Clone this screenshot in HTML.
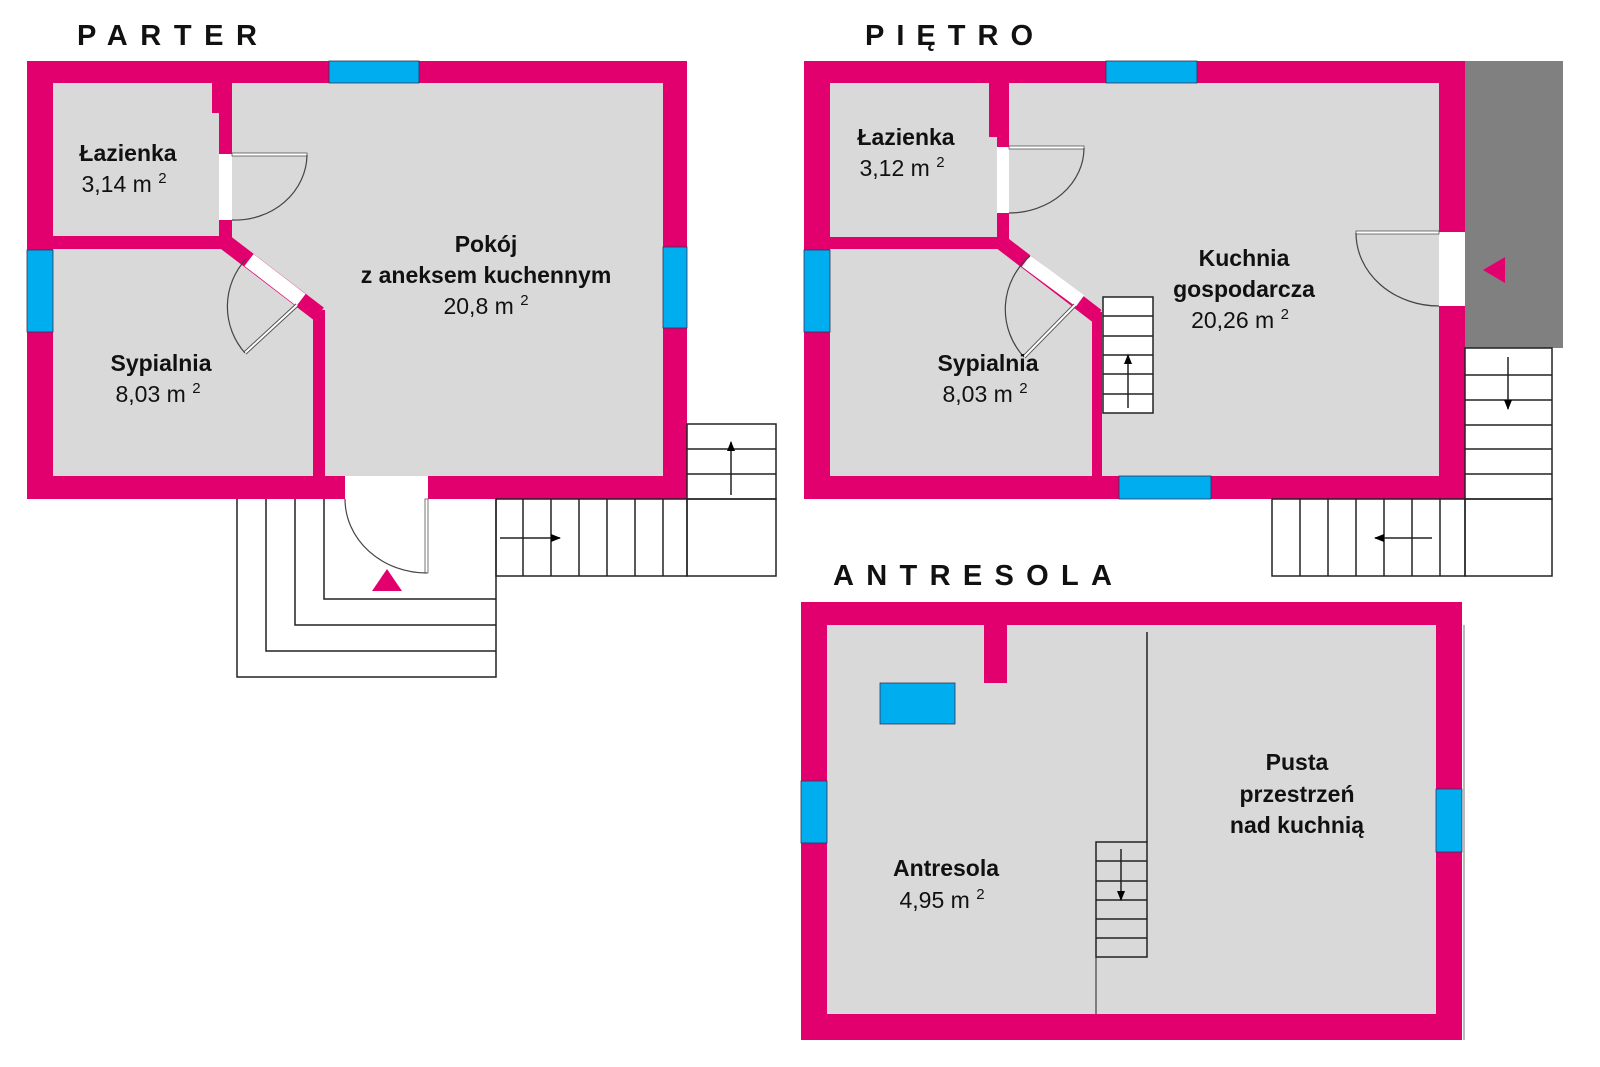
<!DOCTYPE html>
<html><head><meta charset="utf-8"><style>
html,body{margin:0;padding:0;background:#fff;}
svg{display:block;}
text{font-family:"Liberation Sans","DejaVu Sans",sans-serif;}
.t{font-weight:bold;font-size:29px;fill:#111;}
.rb{font-weight:bold;font-size:23px;fill:#111;text-anchor:middle;}
.rn{font-size:23px;fill:#111;text-anchor:middle;}
.sup{font-size:15px;}
</style></head><body>
<svg width="1600" height="1067" viewBox="0 0 1600 1067" xmlns="http://www.w3.org/2000/svg">
<defs>
<marker id="ah" markerWidth="10" markerHeight="10" refX="9" refY="4" orient="auto" markerUnits="userSpaceOnUse"><path d="M0,0 L10,4 L0,8 Z" fill="#000"/></marker>
</defs>
<text class="t" x="77" y="45" textLength="180" lengthAdjust="spacing">PARTER</text>
<text class="t" x="865" y="45" textLength="168" lengthAdjust="spacing">PIĘTRO</text>
<text class="t" x="833" y="585" textLength="279" lengthAdjust="spacing">ANTRESOLA</text>

<!-- ================= PARTER ================= -->
<g>
<rect x="27" y="61" width="660" height="438" fill="#e2006f"/>
<rect x="53" y="83" width="610" height="393" fill="#d9d9d9"/>
<rect x="212" y="83" width="20" height="30" fill="#e2006f"/>
<rect x="219" y="83" width="13" height="166" fill="#e2006f"/>
<rect x="53" y="236" width="179" height="13" fill="#e2006f"/>
<rect x="219" y="154" width="13" height="66" fill="#fff"/>
<line x1="225" y1="242" x2="319" y2="314" stroke="#e2006f" stroke-width="16"/>
<rect x="313" y="310" width="12" height="189" fill="#e2006f"/>
<line x1="249" y1="260" x2="301" y2="300" stroke="#fff" stroke-width="15"/>
<line x1="297" y1="305" x2="245" y2="353" stroke="#555" stroke-width="4"/>
<line x1="297" y1="305" x2="245" y2="353" stroke="#fff" stroke-width="2"/>
<path d="M245,353 A70,70 0 0 1 246,259" fill="none" stroke="#444" stroke-width="1.2"/>
<rect x="232" y="153" width="75" height="3" fill="#fff" stroke="#555" stroke-width="0.8"/>
<path d="M307,155 A72,66 0 0 1 232,220" fill="none" stroke="#444" stroke-width="1.2"/>
<rect x="345" y="476" width="83" height="23" fill="#fff"/>
<rect x="329" y="61" width="90" height="22" fill="#00aeef" stroke="#335" stroke-width="0.8"/>
<rect x="27" y="250" width="26" height="82" fill="#00aeef" stroke="#335" stroke-width="0.8"/>
<rect x="663" y="247" width="24" height="81" fill="#00aeef" stroke="#335" stroke-width="0.8"/>
<g fill="none" stroke="#222" stroke-width="1.5">
<polyline points="237,499 237,677 496,677 496,499"/>
<polyline points="266,499 266,651 496,651"/>
<polyline points="295,499 295,625 496,625"/>
<polyline points="324,499 324,599 496,599"/>
<rect x="425" y="499" width="3" height="74" fill="#fff" stroke="#555" stroke-width="0.8"/>
<path d="M345,499 A82,74 0 0 0 427,573" stroke="#444" stroke-width="1.2"/>
<rect x="496" y="499" width="191" height="77"/>
<line x1="523" y1="499" x2="523" y2="576"/><line x1="551" y1="499" x2="551" y2="576"/>
<line x1="579" y1="499" x2="579" y2="576"/><line x1="607" y1="499" x2="607" y2="576"/>
<line x1="635" y1="499" x2="635" y2="576"/><line x1="663" y1="499" x2="663" y2="576"/>
<rect x="687" y="499" width="89" height="77"/>
<rect x="687" y="424" width="89" height="75"/>
<line x1="687" y1="449" x2="776" y2="449"/><line x1="687" y1="474" x2="776" y2="474"/>
<line x1="500" y1="538" x2="560" y2="538" marker-end="url(#ah)"/>
<line x1="731" y1="495" x2="731" y2="442" marker-end="url(#ah)"/>
</g>
<polygon points="387,569 372,591 402,591" fill="#e2006f"/>
<text class="rb" x="128" y="161">Łazienka</text>
<text class="rn" x="124" y="192">3,14 m <tspan class="sup" dy="-9">2</tspan></text>
<text class="rb" x="161" y="371">Sypialnia</text>
<text class="rn" x="158" y="402">8,03 m <tspan class="sup" dy="-9">2</tspan></text>
<text class="rb" x="486" y="252">Pokój</text>
<text class="rb" x="486" y="283">z aneksem kuchennym</text>
<text class="rn" x="486" y="314">20,8 m <tspan class="sup" dy="-9">2</tspan></text>
</g>

<!-- ================= PIETRO ================= -->
<g>
<rect x="1465" y="61" width="98" height="287" fill="#808080"/>
<rect x="804" y="61" width="661" height="438" fill="#e2006f"/>
<rect x="830" y="83" width="609" height="393" fill="#d9d9d9"/>
<rect x="989" y="83" width="20" height="54" fill="#e2006f"/>
<rect x="997" y="83" width="12" height="166" fill="#e2006f"/>
<rect x="830" y="237" width="179" height="12" fill="#e2006f"/>
<rect x="997" y="147" width="12" height="66" fill="#fff"/>
<line x1="1002" y1="243" x2="1097" y2="316" stroke="#e2006f" stroke-width="15"/>
<rect x="1092" y="312" width="10" height="187" fill="#e2006f"/>
<line x1="1026" y1="261" x2="1080" y2="301" stroke="#fff" stroke-width="14"/>
<line x1="1075" y1="305" x2="1024" y2="357" stroke="#555" stroke-width="4"/>
<line x1="1075" y1="305" x2="1024" y2="357" stroke="#fff" stroke-width="2"/>
<path d="M1024,357 A70,70 0 0 1 1030,256" fill="none" stroke="#444" stroke-width="1.2"/>
<rect x="1009" y="146" width="75" height="3" fill="#fff" stroke="#555" stroke-width="0.8"/>
<path d="M1084,148 A75,65 0 0 1 1009,213" fill="none" stroke="#444" stroke-width="1.2"/>
<rect x="1439" y="232" width="26" height="74" fill="#fff"/>
<rect x="1356" y="231" width="83" height="3" fill="#fff" stroke="#555" stroke-width="0.8"/>
<path d="M1356,233 A83,73 0 0 0 1439,306" fill="none" stroke="#444" stroke-width="1.2"/>
<polygon points="1483,270 1505,257 1505,283" fill="#e2006f"/>
<rect x="1106" y="61" width="91" height="22" fill="#00aeef" stroke="#335" stroke-width="0.8"/>
<rect x="804" y="250" width="26" height="82" fill="#00aeef" stroke="#335" stroke-width="0.8"/>
<rect x="1119" y="476" width="92" height="23" fill="#00aeef" stroke="#335" stroke-width="0.8"/>
<g fill="none" stroke="#222" stroke-width="1.5">
<rect x="1103" y="297" width="50" height="116" fill="#fff"/>
<line x1="1103" y1="316" x2="1153" y2="316"/><line x1="1103" y1="336" x2="1153" y2="336"/>
<line x1="1103" y1="355" x2="1153" y2="355"/><line x1="1103" y1="374" x2="1153" y2="374"/>
<line x1="1103" y1="394" x2="1153" y2="394"/>
<line x1="1128" y1="408" x2="1128" y2="355" marker-end="url(#ah)"/>
<rect x="1465" y="348" width="87" height="151" fill="#fff"/>
<line x1="1465" y1="375" x2="1552" y2="375"/><line x1="1465" y1="400" x2="1552" y2="400"/>
<line x1="1465" y1="425" x2="1552" y2="425"/><line x1="1465" y1="449" x2="1552" y2="449"/>
<line x1="1465" y1="474" x2="1552" y2="474"/>
<line x1="1508" y1="357" x2="1508" y2="409" marker-end="url(#ah)"/>
<rect x="1465" y="499" width="87" height="77"/>
<rect x="1272" y="499" width="193" height="77"/>
<line x1="1300" y1="499" x2="1300" y2="576"/><line x1="1328" y1="499" x2="1328" y2="576"/>
<line x1="1356" y1="499" x2="1356" y2="576"/><line x1="1384" y1="499" x2="1384" y2="576"/>
<line x1="1412" y1="499" x2="1412" y2="576"/><line x1="1440" y1="499" x2="1440" y2="576"/>
<line x1="1432" y1="538" x2="1375" y2="538" marker-end="url(#ah)"/>
</g>
<text class="rb" x="906" y="145">Łazienka</text>
<text class="rn" x="902" y="176">3,12 m <tspan class="sup" dy="-9">2</tspan></text>
<text class="rb" x="1244" y="266">Kuchnia</text>
<text class="rb" x="1244" y="297">gospodarcza</text>
<text class="rn" x="1240" y="328">20,26 m <tspan class="sup" dy="-9">2</tspan></text>
<text class="rb" x="988" y="371">Sypialnia</text>
<text class="rn" x="985" y="402">8,03 m <tspan class="sup" dy="-9">2</tspan></text>
</g>

<!-- ================= ANTRESOLA ================= -->
<g>
<line x1="1464" y1="625" x2="1464" y2="1040" stroke="#777" stroke-width="1"/>
<rect x="801" y="602" width="661" height="438" fill="#e2006f"/>
<rect x="827" y="625" width="609" height="389" fill="#d9d9d9"/>
<rect x="984" y="625" width="23" height="58" fill="#e2006f"/>
<rect x="880" y="683" width="75" height="41" fill="#00aeef" stroke="#335" stroke-width="0.8"/>
<rect x="801" y="781" width="26" height="62" fill="#00aeef" stroke="#335" stroke-width="0.8"/>
<rect x="1436" y="789" width="26" height="63" fill="#00aeef" stroke="#335" stroke-width="0.8"/>
<g fill="none" stroke="#222" stroke-width="1.5">
<line x1="1147" y1="632" x2="1147" y2="842"/>
<rect x="1096" y="842" width="51" height="115"/>
<line x1="1096" y1="861" x2="1147" y2="861"/><line x1="1096" y1="881" x2="1147" y2="881"/>
<line x1="1096" y1="900" x2="1147" y2="900"/><line x1="1096" y1="919" x2="1147" y2="919"/>
<line x1="1096" y1="938" x2="1147" y2="938"/>
<line x1="1096" y1="957" x2="1096" y2="1014" stroke-width="1"/>
<line x1="1121" y1="849" x2="1121" y2="900" marker-end="url(#ah)"/>
</g>
<text class="rb" x="946" y="876">Antresola</text>
<text class="rn" x="942" y="908">4,95 m <tspan class="sup" dy="-9">2</tspan></text>
<text class="rb" x="1297" y="770">Pusta</text>
<text class="rb" x="1297" y="802">przestrzeń</text>
<text class="rb" x="1297" y="833">nad kuchnią</text>
</g>
</svg>
</body></html>
